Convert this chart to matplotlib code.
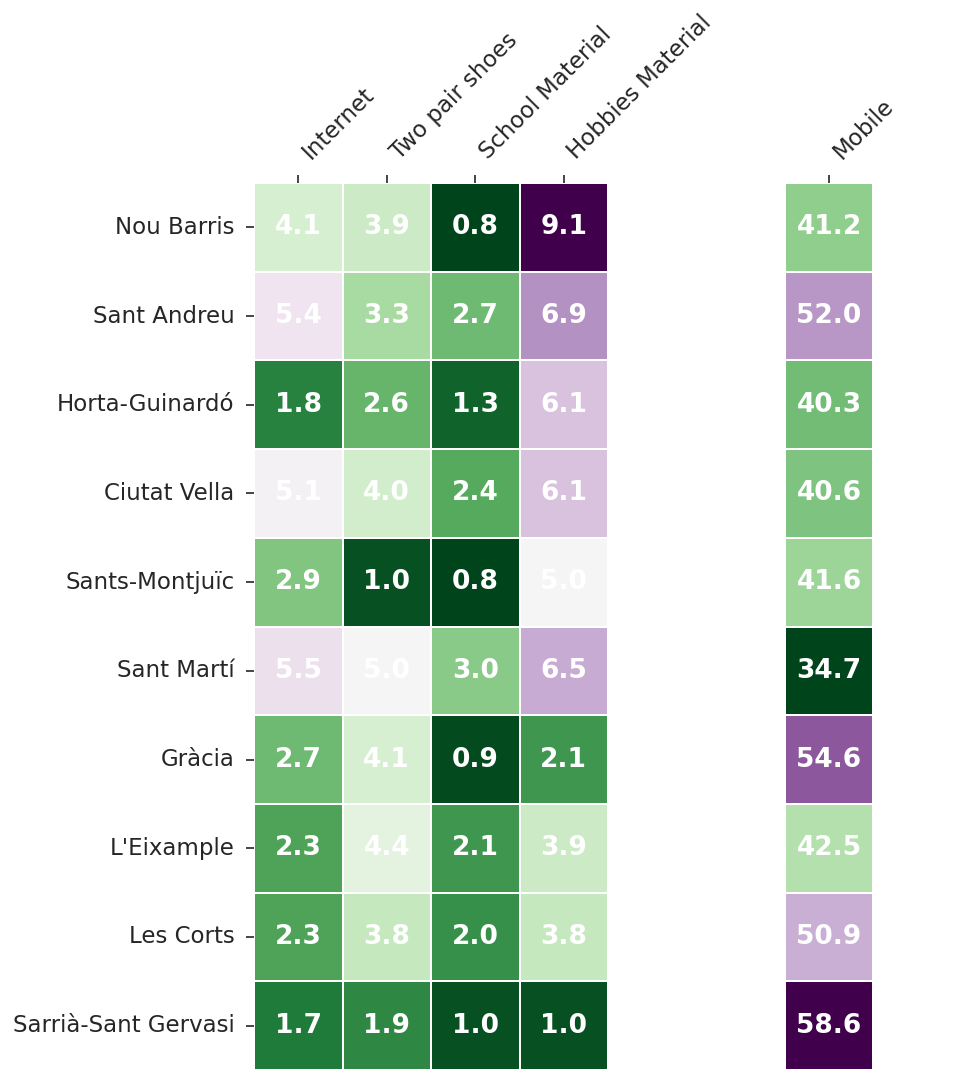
import numpy as np
import pandas as pd
import matplotlib
matplotlib.use("Agg")
import matplotlib.pyplot as plt
import seaborn as sns

# Barrios de Barcelona y porcentajes
districts = ["Nou Barris", "Sant Andreu", "Horta-Guinardó", "Ciutat Vella",
             "Sants-Montjuïc", "Sant Martí", "Gràcia", "L'Eixample",
             "Les Corts", "Sarrià-Sant Gervasi"]
internet = [4.1, 5.4, 1.8, 5.1, 2.9, 5.5, 2.7, 2.3, 2.3, 1.7]
two_pair_shoes = [3.9, 3.3, 2.6, 4.0, 1.0, 5.0, 4.1, 4.4, 3.8, 1.9]
school_material = [0.8, 2.7, 1.3, 2.4, 0.8, 3.0, 0.9, 2.1, 2.0, 1.0]
hobbies_material = [9.1, 6.9, 6.1, 6.1, 5.0, 6.5, 2.1, 3.9, 3.8, 1.0]
mobile = [41.2, 52.0, 40.3, 40.6, 41.6, 34.7, 54.6, 42.5, 50.9, 58.6]

sns.set_theme(style="ticks", context="talk")

left_df = pd.DataFrame({
    "Internet": internet,
    "Two pair shoes": two_pair_shoes,
    "School Material": school_material,
    "Hobbies Material": hobbies_material,
}, index=districts)
right_df = pd.DataFrame({"Mobile": mobile}, index=districts)

fig = plt.figure(figsize=(9.6, 10.83), dpi=100)
ax1 = fig.add_axes([254 / 960, 13 / 1083, 354 / 960, 887 / 1083])
ax2 = fig.add_axes([785 / 960, 13 / 1083, 88 / 960, 887 / 1083])

annot = dict(color="white", weight="bold", size=19)
sns.heatmap(left_df, ax=ax1, cmap="PRGn_r", annot=True, fmt=".1f",
            annot_kws=annot, linewidths=1.2, linecolor="white", cbar=False)
sns.heatmap(right_df, ax=ax2, cmap="PRGn_r", annot=True, fmt=".1f",
            annot_kws=annot, linewidths=1.2, linecolor="white", cbar=False,
            yticklabels=False)

for ax in (ax1, ax2):
    ax.xaxis.tick_top()
    ax.tick_params(axis="x", length=6, width=1.2, pad=8)
    ax.tick_params(axis="y", length=6, width=1.2, pad=8, left=(ax is ax1))
    plt.setp(ax.get_xticklabels(), rotation=45, ha="left")
    ax.set_xlabel("")
    ax.set_ylabel("")
ax1.set_yticklabels(districts, rotation=0)

fig.savefig("out.png", dpi=100)
